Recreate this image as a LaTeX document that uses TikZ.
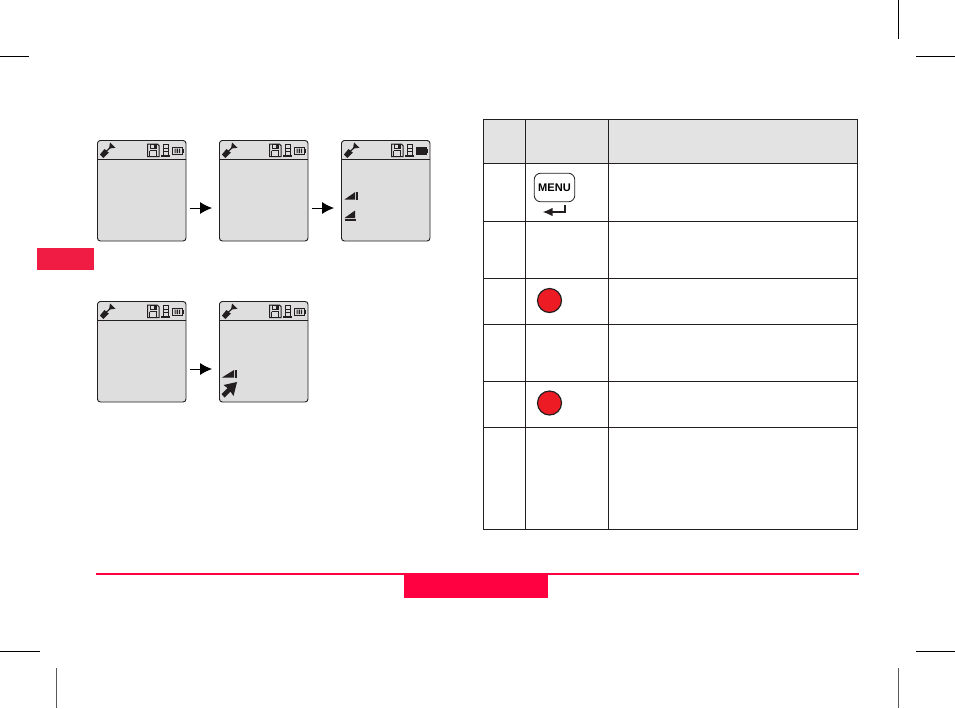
\documentclass[tikz,border=0pt]{standalone}
\usepackage{fontspec}
\setmainfont{Liberation Sans}
\usetikzlibrary{arrows.meta}
\definecolor{scr}{HTML}{DEDEDE}
\definecolor{hdr}{HTML}{E3E3E3}
\definecolor{lred}{HTML}{FF0040}
\definecolor{tabred}{HTML}{F01C44}
\definecolor{bred}{HTML}{ED1C24}
\definecolor{ink}{HTML}{231F20}
\tikzset{
  screenbox/.style={draw=ink,line width=0.7pt,fill=scr,rounded corners=2.2pt,minimum width=66.4pt,minimum height=75.4pt,inner sep=0pt,anchor=north west},
  flow/.style={-{Latex[length=9pt,width=9pt]},line width=0.75pt,draw=black,shorten >=5.2pt,shorten <=2.4pt},
  ic/.style={draw=ink,line width=0.75pt},
  tline/.style={draw=ink,line width=0.7pt},
  crop/.style={draw=black,line width=0.6pt},
  crop gray/.style={draw=black!65,line width=0.6pt},
  redbtn/.style={circle,draw=ink,line width=0.9pt,fill=bred,minimum size=18pt,inner sep=0pt},
}
% #1 name, #2 x, #3 y, #4 battery content
\newcommand{\lcd}[4]{%
  \node[screenbox] (#1) at (#2,#3) {};
  \begin{scope}[shift={(#2,#3)}]
    \draw[ic,line width=0.8pt] (0,19.5) -- (88.5,19.5);
    % shovel
    \fill[ink] (3,14.5) -- (7.5,9) -- (11.8,12.7) -- (6.3,18) -- cycle;
    \draw[ink,line width=0.9pt] (9,11.5) -- (15,6);
    \fill[ink] (13,2.5) -- (18.5,7.8) -- (12,8.5) -- cycle;
    % floppy
    \draw[ic] (50.5,4.2) -- (60.5,4.2) -- (62,5.7) -- (62,16.7) -- (50.5,16.7) -- cycle;
    \fill[ink] (53,4.2) rectangle (60,9);
    \fill[scr] (53.8,5) rectangle (56.5,8.2);
    \draw[ic,line width=0.6pt] (52.7,10.7) -- (52.7,16.7) (59.8,10.7) -- (59.8,16.7) (52.7,10.7) -- (59.8,10.7);
    % tower
    \draw[ic,line width=0.65pt] (66,4.5) rectangle (71,8);
    \draw[ic,line width=0.65pt] (66,8) rectangle (71,11.5);
    \draw[ic,line width=0.65pt] (66,11.5) rectangle (71,15);
    \fill[ink] (64,15.3) rectangle (73,17);
    % battery
    \draw[ic] (75,7.5) rectangle (85,14);
    \fill[ink] (85,9) rectangle (86.5,12.5);
    #4
  \end{scope}}
\newcommand{\threebars}{\fill[ink] (77.5,8.5) rectangle (78.7,13) (79.7,8.5) rectangle (80.9,13) (81.9,8.5) rectangle (83.1,13);}
\newcommand{\fullbars}{\fill[ink] (75.5,8) rectangle (84.5,13.5);}
\begin{document}
\begin{tikzpicture}[x=0.75pt,y=-0.75pt]
\useasboundingbox (0,0) rectangle (955,708);
\fill[white] (0,0) rectangle (955,708);
% crop marks
\draw[crop] (0,56.5) -- (29,56.5);
\draw[crop] (898.5,0) -- (898.5,38.7);
\draw[crop] (916,56.5) -- (955,56.5);
\draw[crop] (0,651.5) -- (40,651.5);
\draw[crop gray] (56.5,668) -- (56.5,708);
\draw[crop gray] (898.5,668) -- (898.5,708);
\draw[crop] (916,651.5) -- (955,651.5);
% red tab
\node[fill=tabred,minimum width=42.75pt,minimum height=16.5pt,inner sep=0pt,anchor=north west] (tab) at (37,248) {};
% screens
\lcd{a}{97}{140}{\threebars}
\lcd{b}{219}{140}{\threebars}
\lcd{c}{341}{140}{\fullbars}
\lcd{d}{97}{301}{\threebars}
\lcd{e}{219}{301}{\threebars}
\draw[flow] (a.east|-0,208) -- (b.west|-0,208);
\draw[flow] (b.east|-0,208) -- (c.west|-0,208);
\draw[flow] (d.east|-0,369) -- (e.west|-0,369);
% signal icons
\begin{scope}[shift={(341,140)}]
  \fill[ink] (3.5,59.5) -- (14,52.2) -- (14,59.5) -- cycle;
  \fill[ink] (15,52.2) rectangle (16.5,59.5);
  \fill[ink] (3.5,78) -- (14,70.5) -- (14,78) -- cycle;
  \fill[ink] (3.5,79.2) rectangle (14.5,80.5);
\end{scope}
\begin{scope}[shift={(219,301)}]
  \fill[ink] (2.7,76.7) -- (15,69) -- (15,76.7) -- cycle;
  \fill[ink] (16,69) rectangle (18,76.7);
  \fill[ink] (18,81) -- (14.5,95) -- (11.5,90.5) -- (5.5,96.5) -- (2.5,93) -- (8.5,87) -- (4.5,84) -- cycle;
\end{scope}
% table
\fill[hdr] (484,119) rectangle (857,163);
\draw[tline] (483.7,119.5) rectangle (857.5,529);
\foreach \yy in {163.5,221.5,278.5,324.5,381.5,427.5} \draw[tline] (484,\yy) -- (857.5,\yy);
\foreach \xx in {525,608} \draw[tline] (\xx,119) -- (\xx,529);
% menu key
\node[draw=ink,line width=0.6pt,rounded corners=5pt,minimum width=30.5pt,minimum height=21.5pt,inner sep=0pt,font=\bfseries\fontsize{8.3}{10}\selectfont] (menu) at (554.5,187.5) {MENU};
\coordinate (ent) at (565,205);
\draw[ink,line width=1.4pt,-{Latex[length=7.5pt,width=6.5pt]}] (ent) |- (542.5,212);
% red buttons
\node[redbtn] (r1) at (549.5,300.5) {};
\node[redbtn] (r2) at (549.5,403) {};
% bottom
\draw[lred,line width=1.4pt] (96,574) -- (859,574);
\node[fill=lred,minimum width=108pt,minimum height=18pt,inner sep=0pt,anchor=north west] (foot) at (404,574) {};
\end{tikzpicture}
\end{document}
